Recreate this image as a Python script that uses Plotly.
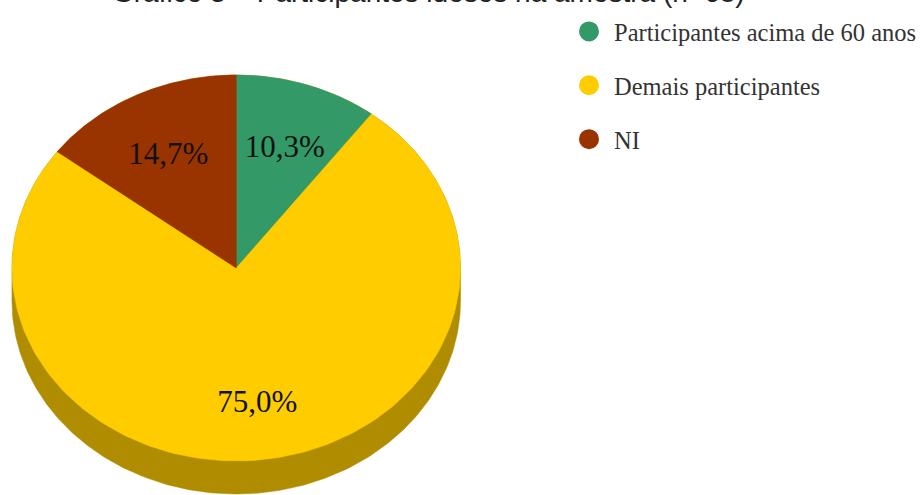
import numpy as np
import plotly.graph_objects as go

# ---- data ----
categories = ["Participantes acima de 60 anos", "Demais participantes", "NI"]
values = [10.3, 75.0, 14.7]
labels = ["10,3%", "75,0%", "14,7%"]
colors = ["#339966", "#FFCC00", "#993300"]
side_color = "#B08D00"
title_text = "Gráfico 3 – Participantes idosos na amostra (n=68)"

# ---- geometry of the tilted (3D-looking) pie, in pixel units of the axes ----
CX, CY, RX, RY, DEPTH = 237, 268, 225, 193, 33
LABEL_K = 0.68
LABEL_DY = 6


def ellipse_pts(t, k=1.0, dy=0.0):
    return CX + RX * k * np.cos(t), CY - RY * k * np.sin(t) + dy


fig = go.Figure()

# side of the pie (silhouette: upper half of top face + lower half of bottom face)
t_up = np.linspace(0, np.pi, 200)
t_dn = np.linspace(np.pi, 2 * np.pi, 200)
xu, yu = ellipse_pts(t_up)
xd, yd = ellipse_pts(t_dn, dy=DEPTH)
fig.add_trace(go.Scatter(
    x=np.concatenate([xu, xd, xu[:1]]), y=np.concatenate([yu, yd, yu[:1]]),
    fill="toself", fillcolor=side_color, mode="lines",
    line=dict(color=side_color, width=0.5), hoverinfo="skip", showlegend=False))

total = float(sum(values))
cum = 0.0
lab_x, lab_y = [], []
for cat, v, c in zip(categories, values, colors):
    a0 = np.pi / 2 - 2 * np.pi * cum / total
    cum += v
    a1 = np.pi / 2 - 2 * np.pi * cum / total
    t = np.linspace(a0, a1, 200)
    ex, ey = ellipse_pts(t)
    fig.add_trace(go.Scatter(
        x=np.concatenate([[CX], ex, [CX]]), y=np.concatenate([[CY], ey, [CY]]),
        fill="toself", fillcolor=c, mode="lines",
        line=dict(color=c, width=0.5), hoverinfo="skip", showlegend=False))
    mx, my = ellipse_pts((a0 + a1) / 2, k=LABEL_K, dy=LABEL_DY)
    lab_x.append(mx)
    lab_y.append(my)

fig.add_trace(go.Scatter(
    x=lab_x, y=lab_y, mode="text", text=labels,
    textfont=dict(family="Liberation Serif", size=31, color="#111111"),
    hoverinfo="skip", showlegend=False))

# legend entries
for cat, c in zip(categories, colors):
    fig.add_trace(go.Scatter(
        x=[None], y=[None], mode="markers", name=cat, legendgroup=cat,
        marker=dict(symbol="circle", size=24, color=c,
                    line=dict(color=c, width=4))))

fig.add_annotation(
    text=title_text, xref="paper", yref="paper", x=430 / 922, y=1 - 10 / 495,
    xanchor="center", yanchor="bottom", showarrow=False,
    font=dict(family="Liberation Sans", size=28, color="#222222"))

fig.update_layout(
    width=922, height=495,
    margin=dict(l=0, r=0, t=0, b=0),
    paper_bgcolor="white", plot_bgcolor="white",
    xaxis=dict(range=[0, 922], visible=False, fixedrange=True),
    yaxis=dict(range=[495, 0], visible=False, fixedrange=True),
    legend=dict(
        x=566 / 922, y=1 - 9 / 495, xanchor="left", yanchor="top",
        font=dict(family="Liberation Serif", size=24.5, color="#333333"),
        tracegroupgap=19, itemwidth=40, bgcolor="rgba(0,0,0,0)"),
)

fig.write_html("out.html",
               config={"displayModeBar": False},
               post_script="document.body.style.margin='0';"
                           "document.body.style.overflow='hidden';")
